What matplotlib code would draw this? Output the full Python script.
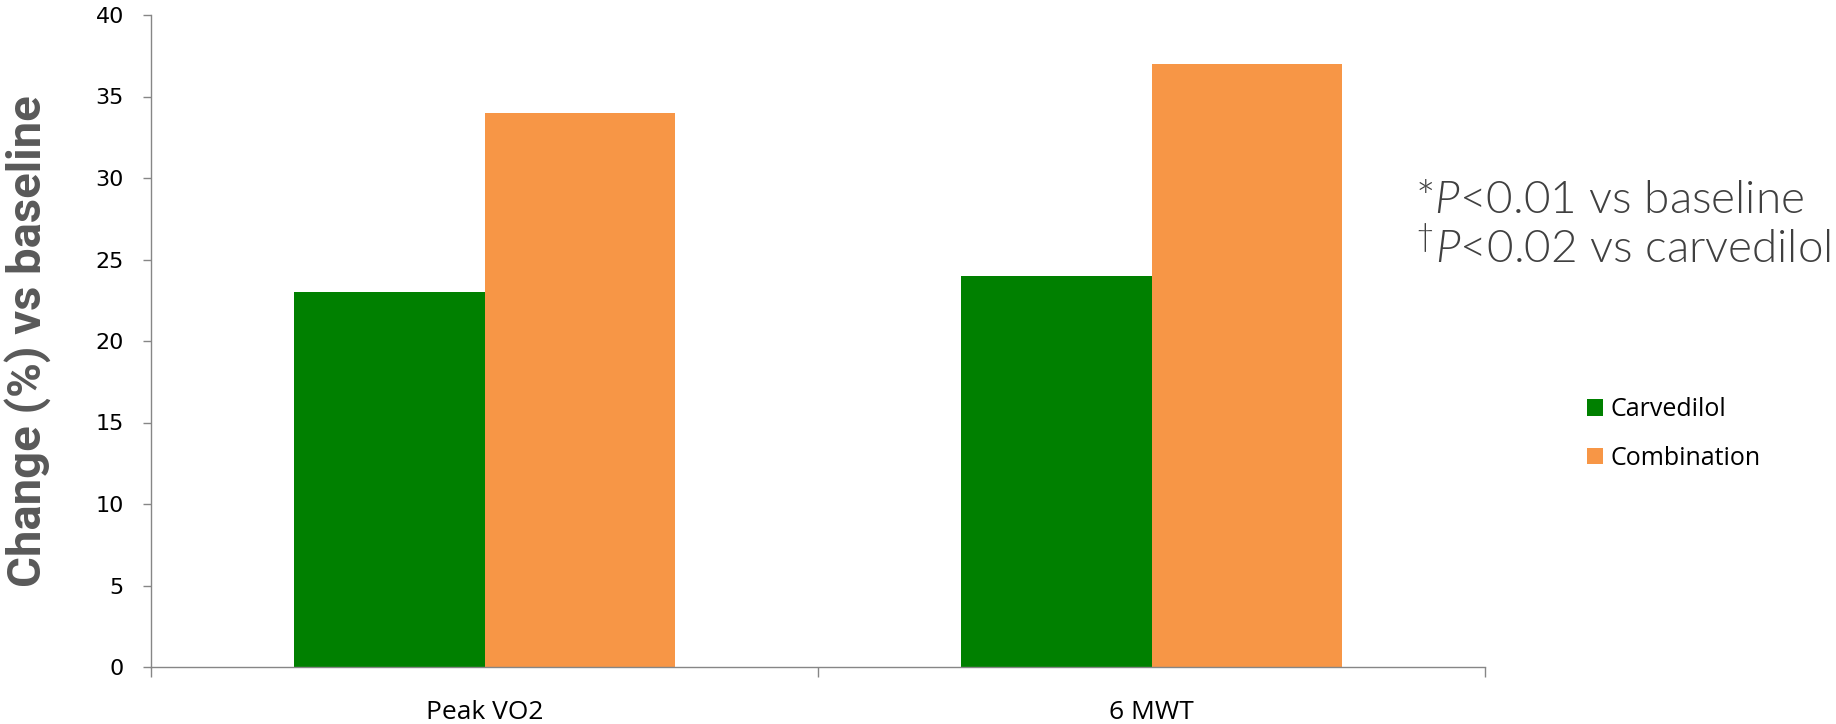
import matplotlib
matplotlib.use("Agg")
import matplotlib.pyplot as plt
import numpy as np

# Data
categories = ["Peak VO2", "6 MWT"]
series_names = ["Carvedilol", "Combination"]
carvedilol = [23, 24]
combination = [34, 37]
y_ticks = [0, 5, 10, 15, 20, 25, 30, 35, 40]

GREEN = "#008000"
ORANGE = "#F79646"
AXIS_GRAY = "#868686"
NOTE_GRAY = "#404040"

plt.rcParams["mathtext.fontset"] = "custom"
plt.rcParams["mathtext.rm"] = "Lato:weight=300"
plt.rcParams["mathtext.it"] = "Lato:italic:weight=300"

W, H = 1836, 724
fig = plt.figure(figsize=(W / 100, H / 100), dpi=100)
ax = fig.add_axes([151 / W, 1 - 667 / H, (1485 - 151) / W, (667 - 15) / H])

x = np.arange(len(categories))
w = 0.285
ax.bar(x - w / 2, carvedilol, width=w, color=GREEN, label=series_names[0], zorder=2)
ax.bar(x + w / 2, combination, width=w, color=ORANGE, label=series_names[1], zorder=2)

ax.set_xlim(-0.5, len(categories) - 0.5)
ax.set_ylim(0, 40)
ax.set_yticks(y_ticks)
ax.set_yticklabels([str(v) for v in y_ticks], fontsize=16, family="DejaVu Sans")

# category labels sit between boundary ticks
ax.set_xticks(x)
ax.set_xticklabels(categories, fontsize=19, family="Open Sans")
ax.tick_params(axis="x", length=0, pad=23.5)
ax.set_xticks(np.arange(-0.5, len(categories)), minor=True)
ax.tick_params(axis="x", which="minor", length=7, color=AXIS_GRAY, width=1)
ax.tick_params(axis="y", length=6, color=AXIS_GRAY, width=1, pad=13.5)

for side in ("top", "right"):
    ax.spines[side].set_visible(False)
for side in ("left", "bottom"):
    ax.spines[side].set_color(AXIS_GRAY)
    ax.spines[side].set_linewidth(1)

fig.text(41 / W, 1 - 341.5 / H, "Change (%) vs baseline", rotation=90,
         rotation_mode="anchor", ha="center", va="baseline", fontsize=34,
         fontweight="bold", color="#595959", family="Roboto")

fig.text(1415 / W, 1 - 213 / H, r"*$\mathit{P}$<0.01 vs baseline",
         ha="left", va="baseline", fontsize=33, color=NOTE_GRAY,
         family="Lato", fontweight=300)
fig.text(1415 / W, 1 - 263 / H, r"$^{\dagger}\mathit{P}$<0.02 vs carvedilol",
         ha="left", va="baseline", fontsize=33, color=NOTE_GRAY,
         family="Lato", fontweight=300)

fig.legend(loc="center left", bbox_to_anchor=(1587 / W, 1 - 434 / H),
           frameon=False, borderpad=0, borderaxespad=0,
           handlelength=0.64, handleheight=0.64, handletextpad=0.3,
           labelspacing=0.94, prop={"family": "Open Sans", "size": 18})

fig.savefig("out.png", dpi=100)
